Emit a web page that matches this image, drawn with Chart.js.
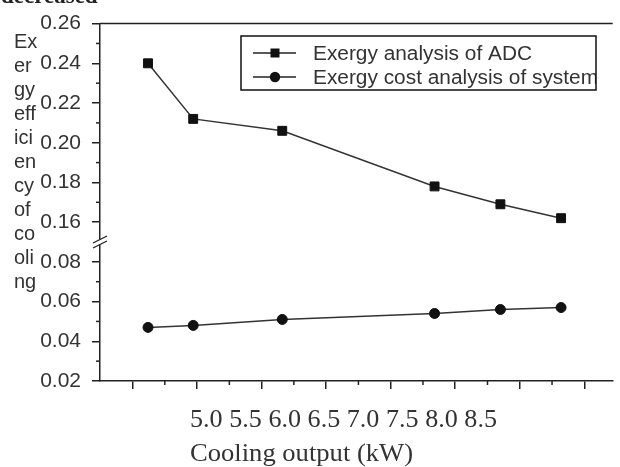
<!DOCTYPE html>
<html>
<head>
<meta charset="utf-8">
<script src="https://cdn.jsdelivr.net/npm/chart.js@4"></script>
<style>
  html, body { margin: 0; padding: 0; background: #fff; }
  #wrap { width: 620px; height: 467px; position: relative; }
</style>
</head>
<body>
<div id="wrap"><canvas id="myChart"></canvas></div>
<script>
// Data

const coolingOutput = [5.12, 5.47, 6.16, 7.34, 7.85, 8.32];
const adcExergy = [0.240, 0.212, 0.206, 0.178, 0.169, 0.162];
const systemExergyCost = [0.047, 0.048, 0.051, 0.054, 0.056, 0.057];

const seriesNames = ["Exergy analysis of ADC", "Exergy cost analysis of system"];
const xTickLabels = ["5.0", "5.5", "6.0", "6.5", "7.0", "7.5", "8.0", "8.5"];
const yTickLabels = ["0.02", "0.04", "0.06", "0.08", "0.16", "0.18", "0.20", "0.22", "0.24", "0.26"];
const yTitleLines = ["Ex", "er", "gy", "eff", "ici", "en", "cy", "of", "co", "oli", "ng"];
const xTitle = "Cooling output (kW)";
const topText = "decreased";

// the y axis is broken between 0.08 and 0.16: upper values are shifted down by 0.06
const BREAK_SHIFT = 0.06;
const toAxis = v => (v >= 0.15 ? v - BREAK_SHIFT : v);

const xMajor = xTickLabels.map(Number);
const xMinor = xMajor.slice(0, -1).map(v => v + 0.25);
const yMajor = yTickLabels.map(s => +toAxis(Number(s)).toFixed(2));
const yMinor = yMajor.slice(0, -1)
    .map(v => +(v + 0.01).toFixed(2))
    .filter(v => v !== 0.09);

// Helpers

function textFit(ctx, str, x, y, font, width) {
    ctx.font = font;
    const w = ctx.measureText(str).width;
    ctx.save();
    ctx.translate(x, y);
    ctx.scale(width ? width / w : 1, 1);
    ctx.fillText(str, 0, 0);
    ctx.restore();
}

function marker(ctx, style, cx, cy) {
    ctx.beginPath();
    if (style === "rect") ctx.rect(cx - 4.5, cy - 4.5, 9, 9);
    else ctx.arc(cx, cy, 5.2, 0, Math.PI * 2);
    ctx.fill();
}

function seg(ctx, x1, y1, x2, y2) {
    ctx.beginPath();
    ctx.moveTo(x1, y1);
    ctx.lineTo(x2, y2);
    ctx.stroke();
}

// Decorations: frame, minor ticks, axis break, texts, boxed legend

const decorations = {
    id: "decorations",
    afterDraw(chart) {
        const { ctx, chartArea: a, scales: { x, y } } = chart;
        ctx.save();
        ctx.strokeStyle = "#222";
        ctx.lineWidth = 1.5;
        seg(ctx, a.left, a.top, a.right, a.top);

        xMinor.forEach(v => {
            const px = x.getPixelForValue(v);
            seg(ctx, px, a.bottom, px, a.bottom + 4);
        });
        yMinor.forEach(v => {
            const py = y.getPixelForValue(v);
            seg(ctx, a.left - 4, py, a.left, py);
        });

        // break marks
        const yb = (y.getPixelForValue(0.08) + y.getPixelForValue(0.10)) / 2;
        ctx.fillStyle = "#fff";
        ctx.fillRect(a.left - 2, yb - 2.5, 4, 5);
        ctx.lineWidth = 1.3;
        seg(ctx, a.left - 7, yb + 1, a.left + 7, yb - 6);
        seg(ctx, a.left - 7, yb + 6, a.left + 7, yb - 1);

        // texts
        ctx.fillStyle = "#333";
        ctx.textAlign = "left";
        ctx.textBaseline = "middle";
        ctx.font = "20px 'Liberation Sans', Arial, sans-serif";
        yTitleLines.forEach((t, i) => ctx.fillText(t, 14, 42 + i * 24));

        ctx.textBaseline = "alphabetic";
        const serif = "'Liberation Serif', 'Times New Roman', serif";
        textFit(ctx, xTickLabels.join(" "), 190, 427, "25px " + serif, 307);
        textFit(ctx, xTitle, 190, 461, "25px " + serif, 223);
        ctx.fillStyle = "#222";
        textFit(ctx, topText, 1, 3, "bold 23px " + serif, 0);

        // legend
        const box = { l: 241, t: 36, r: 596, b: 90 };
        ctx.fillStyle = "#fff";
        ctx.fillRect(box.l, box.t, box.r - box.l, box.b - box.t);
        ctx.save();
        ctx.beginPath();
        ctx.rect(box.l, box.t, box.r - box.l, box.b - box.t);
        ctx.clip();
        const legendFont = "20px 'Liberation Sans', Arial, sans-serif";
        ctx.font = legendFont;
        const stretch = 219 / ctx.measureText(chart.data.datasets[0].label).width;
        chart.data.datasets.forEach((ds, i) => {
            const cy = 53 + i * 24;
            ctx.strokeStyle = "#222";
            ctx.lineWidth = 1.5;
            seg(ctx, 253, cy, 296, cy);
            ctx.fillStyle = "#111";
            marker(ctx, ds.pointStyle, 275, cy);
            ctx.fillStyle = "#333";
            ctx.textBaseline = "middle";
            ctx.font = legendFont;
            const w = ctx.measureText(ds.label).width * stretch;
            textFit(ctx, ds.label, 313, cy + 1, legendFont, w);
        });
        ctx.restore();
        ctx.strokeStyle = "#111";
        ctx.lineWidth = 1.5;
        ctx.strokeRect(box.l, box.t, box.r - box.l, box.b - box.t);
        ctx.restore();
    }
};

// Setup

const data = {
    datasets: [
        {
            label: seriesNames[0],
            data: coolingOutput.map((c, i) => ({ x: c, y: toAxis(adcExergy[i]) })),
            pointStyle: "rect",
            pointRadius: 6.3,
            borderColor: "#333",
            borderWidth: 1.5,
            pointBackgroundColor: "#111",
            pointBorderColor: "#111",
            pointBorderWidth: 1
        },
        {
            label: seriesNames[1],
            data: coolingOutput.map((c, i) => ({ x: c, y: systemExergyCost[i] })),
            pointStyle: "circle",
            pointRadius: 5,
            borderColor: "#333",
            borderWidth: 1.5,
            pointBackgroundColor: "#111",
            pointBorderColor: "#111",
            pointBorderWidth: 1
        }
    ]
};

// Config

const config = {
    type: "line",
    data,
    options: {
        responsive: true,
        maintainAspectRatio: false,
        animation: false,
        layout: { padding: { top: 19, right: 0, left: 0, bottom: 0 } },
        plugins: {
            legend: { display: false },
            tooltip: { enabled: false }
        },
        scales: {
            x: {
                type: "linear",
                min: 4.748,
                max: 8.72,
                afterFit: s => { s.height = 86; },
                afterBuildTicks: s => { s.ticks = xMajor.map(v => ({ value: v })); },
                ticks: { display: false },
                grid: { drawOnChartArea: false, tickLength: 8, color: "#222", lineWidth: 1.5 },
                border: { color: "#222", width: 1.5 }
            },
            y: {
                min: 0.02,
                max: 0.20,
                afterFit: s => { s.width = 100; },
                afterBuildTicks: s => { s.ticks = yMajor.map(v => ({ value: v })); },
                ticks: {
                    padding: 11,
                    color: "#333",
                    font: { family: "'Liberation Sans', Arial, sans-serif", size: 21 },
                    callback: (v, i) => yTickLabels[i]
                },
                grid: { drawOnChartArea: false, tickLength: 8, color: "#222", lineWidth: 1.5 },
                border: { color: "#222", width: 1.5 }
            }
        }
    },
    plugins: [decorations]
};

// Render init block

const myChart = new Chart(document.getElementById("myChart"), config);
</script>
</body>
</html>
